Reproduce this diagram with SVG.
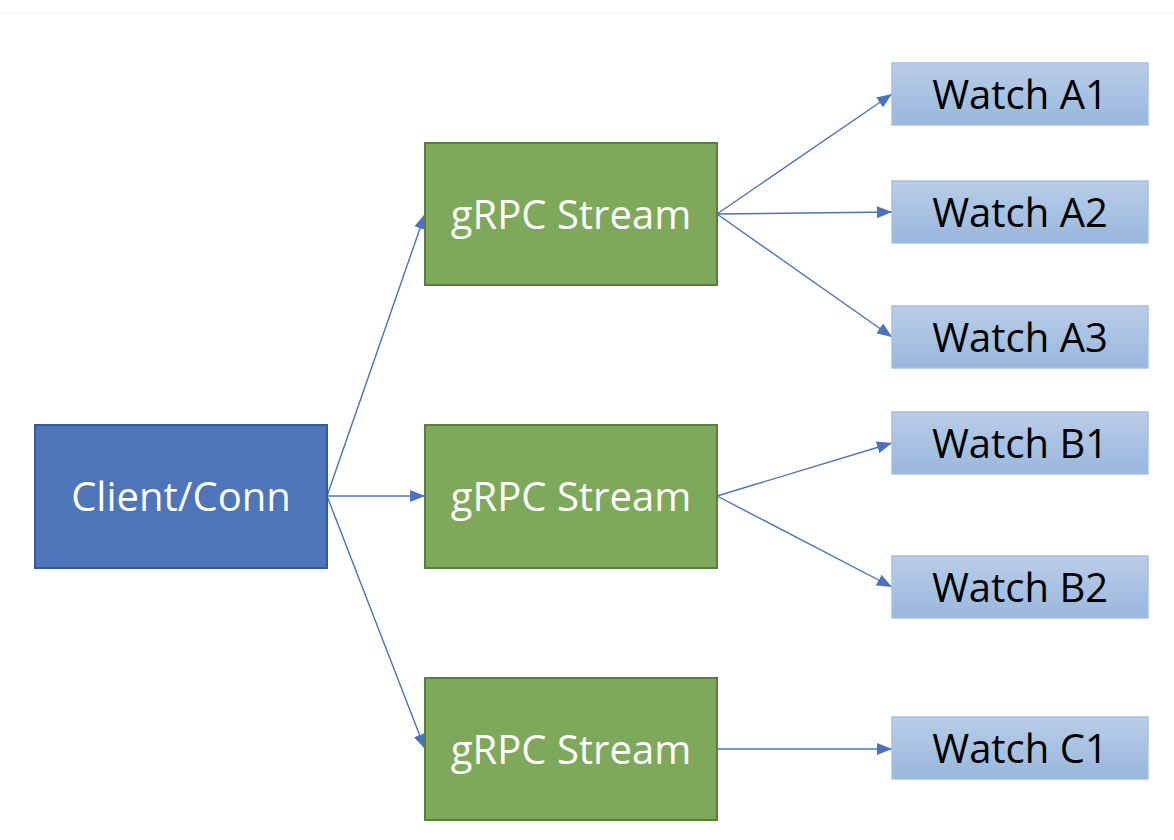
<svg xmlns="http://www.w3.org/2000/svg" width="1174" height="840" viewBox="0 0 1174 840">
<style>
.lbl{font-family:"Open Sans","Liberation Sans",sans-serif;font-size:40px;text-anchor:middle}
.client{fill:#4e74ba;stroke:#345a94;stroke-width:2}
.stream{fill:#7ea85a;stroke:#5a7f3c;stroke-width:2}
.watch{fill:url(#wg);stroke:#a6c1e2;stroke-width:1.5}
.w{fill:#ffffff}
.b{fill:#000000}
.conn line{stroke:#4a72c0;stroke-width:1.4;marker-end:url(#ah)}
</style>
<defs>
<linearGradient id="wg" x1="0" y1="0" x2="0" y2="1">
<stop offset="0" stop-color="#b9cde7"/>
<stop offset="1" stop-color="#98b7dd"/>
</linearGradient>
<marker id="ah" markerUnits="userSpaceOnUse" markerWidth="16" markerHeight="12" refX="15" refY="6" orient="auto">
<path d="M0,0 L15,6 L0,12 Z" fill="#4a72c0"/>
</marker>
</defs>
<rect width="1174" height="840" fill="#ffffff"/>
<line x1="0" y1="13" x2="1174" y2="13" stroke="#f0f0f0" stroke-width="1"/>
<g id="connectors" class="conn">
<line x1="327" y1="496" x2="425" y2="214"/>
<line x1="327" y1="496" x2="425" y2="496"/>
<line x1="327" y1="496" x2="425" y2="749"/>
<line x1="717" y1="214" x2="892" y2="94"/>
<line x1="717" y1="214" x2="892" y2="212"/>
<line x1="717" y1="214" x2="892" y2="337"/>
<line x1="717" y1="496" x2="892" y2="443"/>
<line x1="717" y1="496" x2="892" y2="587"/>
<line x1="717" y1="749" x2="892" y2="749"/>
</g>
<g id="client">
<rect class="client" x="35" y="425" width="292" height="143"/>
<text class="lbl w" x="181" y="511">Client/Conn</text>
</g>
<g id="stream1">
<rect class="stream" x="425" y="143" width="292" height="142"/>
<text class="lbl w" x="571" y="229">gRPC Stream</text>
</g>
<g id="stream2">
<rect class="stream" x="425" y="425" width="292" height="143"/>
<text class="lbl w" x="571" y="511">gRPC Stream</text>
</g>
<g id="stream3">
<rect class="stream" x="425" y="678" width="292" height="142"/>
<text class="lbl w" x="571" y="764">gRPC Stream</text>
</g>
<g id="watchA1">
<rect class="watch" x="892" y="63" width="256" height="62"/>
<text class="lbl b" x="1020" y="108.5">Watch A1</text>
</g>
<g id="watchA2">
<rect class="watch" x="892" y="181" width="256" height="62"/>
<text class="lbl b" x="1020" y="226.5">Watch A2</text>
</g>
<g id="watchA3">
<rect class="watch" x="892" y="306" width="256" height="62"/>
<text class="lbl b" x="1020" y="351.5">Watch A3</text>
</g>
<g id="watchB1">
<rect class="watch" x="892" y="412" width="256" height="62"/>
<text class="lbl b" x="1020" y="457.5">Watch B1</text>
</g>
<g id="watchB2">
<rect class="watch" x="892" y="556" width="256" height="62"/>
<text class="lbl b" x="1020" y="601.5">Watch B2</text>
</g>
<g id="watchC1">
<rect class="watch" x="892" y="717" width="256" height="62"/>
<text class="lbl b" x="1020" y="762.5">Watch C1</text>
</g>
</svg>
